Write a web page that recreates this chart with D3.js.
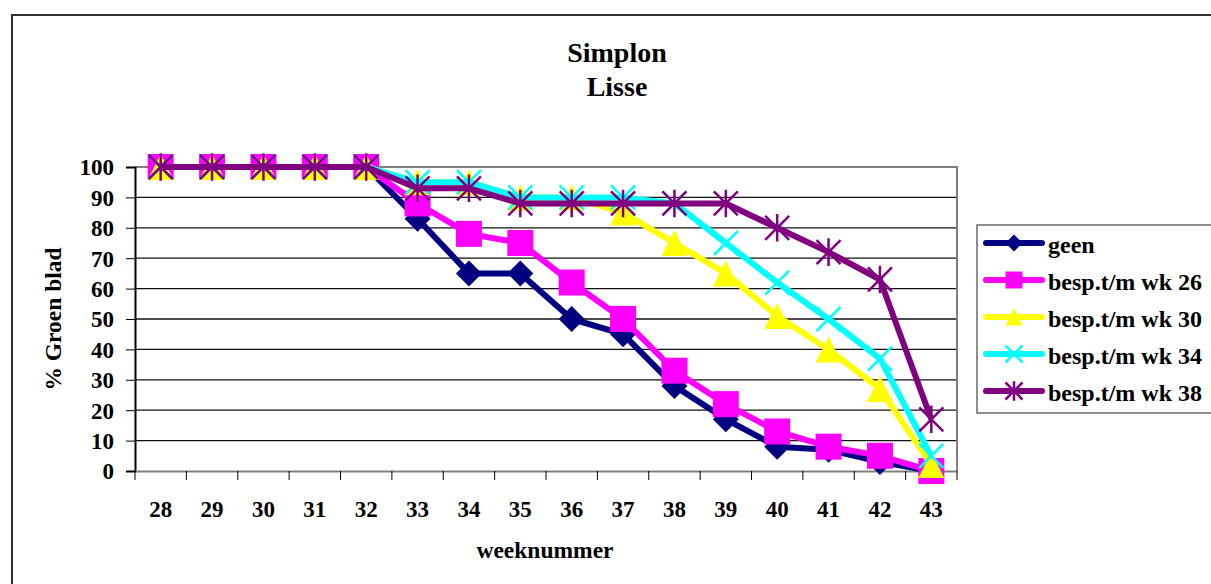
<!DOCTYPE html>
<html><head><meta charset="utf-8">
<script src="https://cdn.jsdelivr.net/npm/d3@7"></script>
<style>body{margin:0;background:#fff;} svg{display:block;}</style>
</head><body>
<svg id="c" width="1211" height="584"></svg>
<script>
const weeks = ["28","29","30","31","32","33","34","35","36","37","38","39","40","41","42","43"];
const geen  = [100,100,100,100,100,83,65,65,50,45,28,17,8,7,3,0];
const wk26  = [100,100,100,100,100,88,78,75,62,50,33,22,13,8,5,0];
const wk30  = [100,100,100,100,100,95,95,90,90,85,75,65,51,40,27,2];
const wk34  = [100,100,100,100,100,95,95,90,90,90,88,75,62,50,37,5];
const wk38  = [100,100,100,100,100,93,93,88,88,88,88,88,80,72,63,17];
const yTicks = [0,10,20,30,40,50,60,70,80,90,100];
const seriesNames = ["geen","besp.t/m wk 26","besp.t/m wk 30","besp.t/m wk 34","besp.t/m wk 38"];
const seriesColors = ["#000080","#FF00FF","#FFFF00","#00FFFF","#800080"];
const seriesMarkers = ["diamond","square","triangle","x","star"];
const seriesValues = [geen, wk26, wk30, wk34, wk38];

const svg = d3.select("#c");
const font = "Liberation Serif";
const L = 135, R = 957, T = 167, B = 471;

// outer border
svg.append("rect").attr("x",12).attr("y",15).attr("width",1210).attr("height",600)
  .attr("fill","none").attr("stroke","#333").attr("stroke-width",2);

const x = d3.scaleBand().domain(weeks).range([L,R]).padding(0);
const y = d3.scaleLinear().domain([0,100]).range([B,T]);
const cx = d => x(d) + x.bandwidth()/2;

// gridlines
svg.append("g").selectAll("line").data(yTicks.filter(t=>t>0)).join("line")
  .attr("x1",L).attr("x2",R).attr("y1",d=>y(d)).attr("y2",d=>y(d))
  .attr("stroke","#111").attr("stroke-width",1.3);
// plot border top/right
svg.append("path").attr("d",`M${L},${T}H${R}V${B}`).attr("fill","none")
  .attr("stroke","#808080").attr("stroke-width",2);

// y axis
const yAxis = svg.append("g").attr("transform",`translate(${L},0)`)
  .call(d3.axisLeft(y).tickValues(yTicks).tickSize(9).tickPadding(12).tickFormat(d3.format("d")));
yAxis.select(".domain").attr("stroke","#000").attr("stroke-width",2);
yAxis.selectAll(".tick line").attr("stroke","#000");
yAxis.selectAll("text").attr("font-family",font).attr("font-size",23).attr("font-weight","bold").attr("fill","#000").attr("dy","0.34em");

// x axis
const xAxis = svg.append("g").attr("transform",`translate(0,${B})`)
  .call(d3.axisBottom(x).tickSize(0));
xAxis.select(".domain").attr("stroke","#808080").attr("stroke-width",2);
xAxis.selectAll("text").attr("font-family",font).attr("font-size",23).attr("font-weight","bold")
  .attr("fill","#000").attr("y",46).attr("dy",0);
svg.append("g").selectAll("line").data(weeks.concat(["end"])).join("line")
  .attr("x1",(d,i)=> i<weeks.length ? x(d) : R).attr("x2",(d,i)=> i<weeks.length ? x(d) : R)
  .attr("y1",B).attr("y2",B+9).attr("stroke","#000").attr("stroke-width",1);

// titles
svg.append("text").attr("x",617).attr("y",62).attr("text-anchor","middle")
  .attr("font-family",font).attr("font-size",28).attr("font-weight","bold").text("Simplon");
svg.append("text").attr("x",617).attr("y",96).attr("text-anchor","middle")
  .attr("font-family",font).attr("font-size",28).attr("font-weight","bold").text("Lisse");
svg.append("text").attr("transform","translate(61,319) rotate(-90)").attr("text-anchor","middle")
  .attr("font-family",font).attr("font-size",23.5).attr("font-weight","bold").text("% Groen blad");
svg.append("text").attr("x",545).attr("y",558).attr("text-anchor","middle")
  .attr("font-family",font).attr("font-size",23.5).attr("font-weight","bold").text("weeknummer");

function drawMarker(g, type, color, s) {
  const h = s/2;
  if (type==="diamond") {
    g.append("path").attr("d",`M0,${-h}L${h},0L0,${h}L${-h},0Z`).attr("fill",color);
  } else if (type==="square") {
    g.append("rect").attr("x",-h).attr("y",-h).attr("width",s).attr("height",s).attr("fill",color);
  } else if (type==="triangle") {
    g.append("path").attr("d",`M0,${-h}L${h},${h}L${-h},${h}Z`).attr("fill",color);
  } else if (type==="x") {
    g.append("path").attr("d",`M${-h},${-h}L${h},${h}M${h},${-h}L${-h},${h}`)
      .attr("stroke",color).attr("stroke-width",2.5).attr("fill","none");
  } else if (type==="star") {
    g.append("path").attr("d",`M${-h},${-h}L${h},${h}M${h},${-h}L${-h},${h}M0,${-h*1.15}L0,${h*1.15}`)
      .attr("stroke",color).attr("stroke-width",2.5).attr("fill","none");
  }
}

const line = d3.line().x((d,i)=>cx(weeks[i])).y(d=>y(d));
seriesValues.forEach((vals,si)=>{
  const g = svg.append("g");
  g.append("path").datum(vals).attr("d",line).attr("fill","none")
    .attr("stroke",seriesColors[si]).attr("stroke-width",6).attr("stroke-linejoin","round");
  vals.forEach((v,i)=>{
    const m = g.append("g").attr("transform",`translate(${cx(weeks[i])},${y(v)})`);
    drawMarker(m, seriesMarkers[si], seriesColors[si], si<=2 ? 26 : 24);
  });
});

// legend
svg.append("rect").attr("x",977).attr("y",225).attr("width",260).attr("height",188)
  .attr("fill","#fff").attr("stroke","#444").attr("stroke-width",1.2);
const ly = d3.scalePoint().domain(seriesNames).range([243,391]);
seriesNames.forEach((n,si)=>{
  const g = svg.append("g").attr("transform",`translate(0,${ly(n)})`);
  g.append("line").attr("x1",986).attr("x2",1042).attr("y1",0).attr("y2",0)
    .attr("stroke",seriesColors[si]).attr("stroke-width",6).attr("stroke-linecap","round");
  const m = g.append("g").attr("transform","translate(1014,0)");
  drawMarker(m, seriesMarkers[si], seriesColors[si], 17);
  g.append("text").attr("x",1048).attr("y",10).attr("font-family",font).attr("font-size",24)
    .attr("font-weight","bold").text(n);
});
</script>
</body></html>
